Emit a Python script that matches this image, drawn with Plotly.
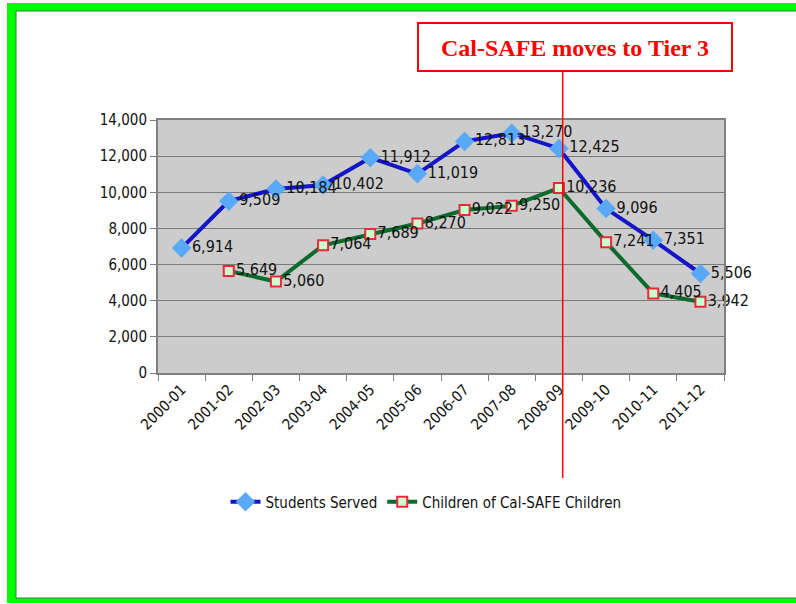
"""Cal-SAFE students served vs. children, 2000-01 to 2011-12."""

import plotly.graph_objects as go

YEARS = [
    "2000-01", "2001-02", "2002-03", "2003-04", "2004-05", "2005-06",
    "2006-07", "2007-08", "2008-09", "2009-10", "2010-11", "2011-12",
]
STUDENTS_SERVED = [6914, 9509, 10184, 10402, 11912, 11019, 12813, 13270, 12425, 9096, 7351, 5506]
CHILDREN = [None, 5649, 5060, 7064, 7689, 8270, 9022, 9250, 10236, 7241, 4405, 3942]
Y_TICKS = [0, 2000, 4000, 6000, 8000, 10000, 12000, 14000]
TIER3_POS = 8.08  # between 2008-09 and 2009-10
NOTE = "Cal-SAFE moves to Tier 3"

W, H = 796, 604
M = dict(l=158, r=72, t=120, b=231)
PW = W - M["l"] - M["r"]
PH = H - M["t"] - M["b"]
FONT = "DejaVu Sans Condensed, DejaVu Sans, sans-serif"


def px_x(x):
    # page pixel -> paper fraction
    return (x - M["l"]) / PW


def px_y(y):
    return (H - M["b"] - y) / PH


def fmt(v):
    return "" if v is None else f"{v:,}"


fig = go.Figure()
fig.add_trace(
    go.Scatter(
        x=YEARS,
        y=STUDENTS_SERVED,
        mode="lines+markers+text",
        name="Students Served",
        text=[fmt(v) for v in STUDENTS_SERVED],
        textposition="middle right",
        textfont=dict(size=16, color="#111111", family=FONT),
        line=dict(color="#1414c8", width=4),
        marker=dict(symbol="diamond", size=15, color="#5aa8f8"),
        cliponaxis=False,
    )
)
fig.add_trace(
    go.Scatter(
        x=YEARS,
        y=CHILDREN,
        mode="lines+markers+text",
        name="Children of Cal-SAFE Children",
        text=[fmt(v) for v in CHILDREN],
        textposition="middle right",
        textfont=dict(size=16, color="#111111", family=FONT),
        line=dict(color="#0b6a2c", width=4),
        marker=dict(symbol="square", size=10, color="#ccffcc", line=dict(color="#e8283c", width=2)),
        connectgaps=False,
        cliponaxis=False,
    )
)

shapes = []
# green frame on left, top and bottom
green = "#00ff00"
for x0, y0, x1, y1 in [(7, 3, 16, 603), (7, 3, 796, 11), (7, 598, 796, 603)]:
    shapes.append(dict(type="rect", xref="paper", yref="paper", layer="above",
                       x0=px_x(x0), x1=px_x(x1), y0=px_y(y0), y1=px_y(y1),
                       fillcolor=green, line=dict(width=0)))
for x0, y0, x1, y1 in [(16, 11, 16, 598), (16, 11, 796, 11), (16, 598, 796, 598)]:
    shapes.append(dict(type="line", xref="paper", yref="paper", layer="above",
                       x0=px_x(x0), x1=px_x(x1), y0=px_y(y0), y1=px_y(y1),
                       line=dict(color="#3c7a3c", width=1)))
# note box and marker line
shapes.append(dict(type="rect", xref="paper", yref="paper",
                   x0=px_x(418), x1=px_x(732), y0=px_y(71), y1=px_y(23),
                   fillcolor="white", line=dict(color="#ff0000", width=2)))
shapes.append(dict(type="line", xref="x", yref="paper", layer="above",
                   x0=TIER3_POS, x1=TIER3_POS, y0=px_y(478), y1=px_y(71),
                   line=dict(color="#ff0000", width=1.5)))

fig.update_layout(
    width=W,
    height=H,
    margin=M,
    paper_bgcolor="white",
    plot_bgcolor="#cccccc",
    font=dict(family=FONT, size=15, color="#111111"),
    shapes=shapes,
    showlegend=True,
    legend=dict(orientation="h", x=px_x(426), y=px_y(502), xanchor="center", yanchor="middle",
                font=dict(size=15), bgcolor="rgba(0,0,0,0)"),
    annotations=[
        dict(text=f"<b>{NOTE}</b>", xref="paper", yref="paper", showarrow=False,
             x=px_x(575), y=px_y(48), xanchor="center", yanchor="middle",
             font=dict(family="Liberation Serif, Times New Roman, serif", size=24, color="#ff0000"))
    ],
)
fig.update_xaxes(
    type="category",
    categoryorder="array",
    categoryarray=YEARS,
    range=[-0.5, len(YEARS) - 0.5],
    tickson="boundaries",
    ticks="outside",
    ticklen=6,
    tickcolor="#808080",
    tickangle=-45,
    showgrid=False,
    showline=True,
    linecolor="#808080",
    linewidth=2,
    mirror=True,
    tickfont=dict(size=15),
)
fig.update_yaxes(
    range=[0, 14000],
    tickvals=Y_TICKS,
    ticktext=[f"{v:,}" for v in Y_TICKS],
    ticks="outside",
    ticklen=6,
    tickcolor="#808080",
    showgrid=True,
    gridcolor="#7a7a7a",
    gridwidth=1,
    showline=True,
    linecolor="#808080",
    linewidth=2,
    mirror=True,
    zeroline=False,
    tickfont=dict(size=15),
)

# drop the default body margin so figure pixels line up with the page
fig.write_html(
    "out.html",
    config={"displayModeBar": False},
    post_script="document.body.style.margin='0';",
)
